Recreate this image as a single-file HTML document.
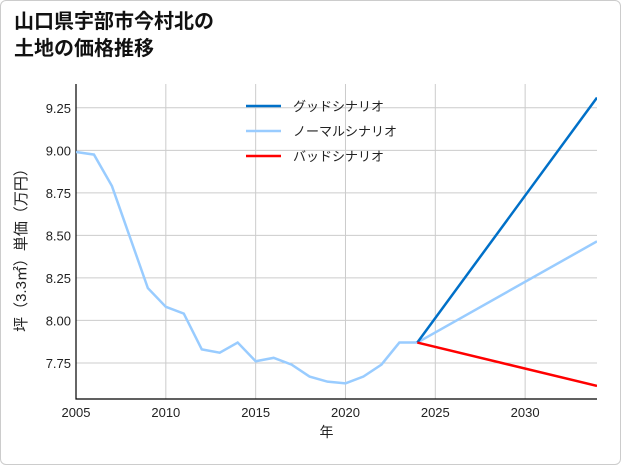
<!DOCTYPE html>
<html><head><meta charset="utf-8"><style>
body{margin:0;background:#fff;}
#wrap{position:relative;width:619px;height:463px;border:1px solid #ccc;border-radius:6px;background:#fff;overflow:hidden;font-family:"Liberation Sans","Noto Sans CJK JP",sans-serif;}
#title{position:absolute;left:13px;top:8px;font-size:20px;font-weight:bold;line-height:27px;color:#111;}
svg text{font-family:"Liberation Sans","Noto Sans CJK JP",sans-serif;fill:#222;}
</style></head><body>
<div id="wrap">
<div id="title">山口県宇部市今村北の<br>土地の価格推移</div>
<svg id="chart" width="619" height="463"></svg>
</div>
<script>
const years=[2005,2006,2007,2008,2009,2010,2011,2012,2013,2014,2015,2016,2017,2018,2019,2020,2021,2022,2023,2024];
const prices=[8.99,8.975,8.79,8.49,8.19,8.08,8.04,7.83,7.81,7.87,7.76,7.78,7.74,7.67,7.64,7.63,7.67,7.74,7.87,7.87];
const scenarioYears=[2024,2034];
const goodValues=[7.87,9.31];
const normalValues=[7.87,8.465];
const badValues=[7.87,7.615];
const xTicks=[2005,2010,2015,2020,2025,2030];
const yTicks=[7.75,8.00,8.25,8.50,8.75,9.00,9.25];
const yTickLabels=["7.75","8.00","8.25","8.50","8.75","9.00","9.25"];

const NS="http://www.w3.org/2000/svg";
const svg=document.getElementById('chart');
const L=75,R=596,T=83,B=398;
const x0=2005,x1=2034.0,y0=7.538,y1=9.39;
const X=v=>L+(v-x0)/(x1-x0)*(R-L);
const Y=v=>B-(v-y0)/(y1-y0)*(B-T);
function el(t,a){const e=document.createElementNS(NS,t);for(const k in a)e.setAttribute(k,a[k]);svg.appendChild(e);return e;}

xTicks.forEach(t=>{
  const g=el('line',{x1:X(t),x2:X(t),y1:T,y2:B,stroke:'#ccc','stroke-width':1});
  
  
  const tx=el('text',{x:X(t),y:B+18,'font-size':13,'text-anchor':'middle'});tx.textContent=t;
  
  
});
yTicks.forEach((t,i)=>{
  const g=el('line',{x1:L,x2:R,y1:Y(t),y2:Y(t),stroke:'#ccc','stroke-width':1});
  
  
  const tx=el('text',{x:L-5,y:Y(t)+5,'font-size':13,'text-anchor':'end'});tx.textContent=yTickLabels[i];
  
  
});
const ax=el('path',{d:`M${L},${T}V${B}H${R}`,fill:'none',stroke:'#000','stroke-width':1.2});



function line(xs,ys,c,name){
  const p=el('polyline',{points:xs.map((v,i)=>X(v)+','+Y(ys[i])).join(' '),fill:'none',stroke:c,'stroke-width':2.5,'clip-path':'url(#clip)'});
  
  
}
const cp=el('clipPath',{id:'clip'});const cr=document.createElementNS(NS,'rect');
cr.setAttribute('x',L);cr.setAttribute('y',T);cr.setAttribute('width',R-L);cr.setAttribute('height',B-T);cp.appendChild(cr);
line(years,prices,'#99ccff','history-line');
line(scenarioYears,normalValues,'#99ccff','normal-scenario-line');
line(scenarioYears,goodValues,'#0070c8','good-scenario-line');
line(scenarioYears,badValues,'#ff0000','bad-scenario-line');

const leg=[['グッドシナリオ','#0070c8'],['ノーマルシナリオ','#99ccff'],['バッドシナリオ','#ff0000']];
leg.forEach((l,i)=>{
  const y=105+i*25;
  const s=el('line',{x1:245,x2:280,y1:y,y2:y,stroke:l[1],'stroke-width':2.5});
  
  
  const t=el('text',{x:292,y:y+5,'font-size':13});t.textContent=l[0];
  
  
});
const xt=el('text',{x:(L+R)/2-10,y:B+38,'font-size':14,'text-anchor':'middle'});xt.textContent='年';


const yt=el('text',{x:0,y:0,'font-size':15,'text-anchor':'middle',transform:`translate(25,${(T+B)/2+5}) rotate(-90)`});yt.textContent='坪（3.3㎡）単価（万円）';


</script>
</body></html>
